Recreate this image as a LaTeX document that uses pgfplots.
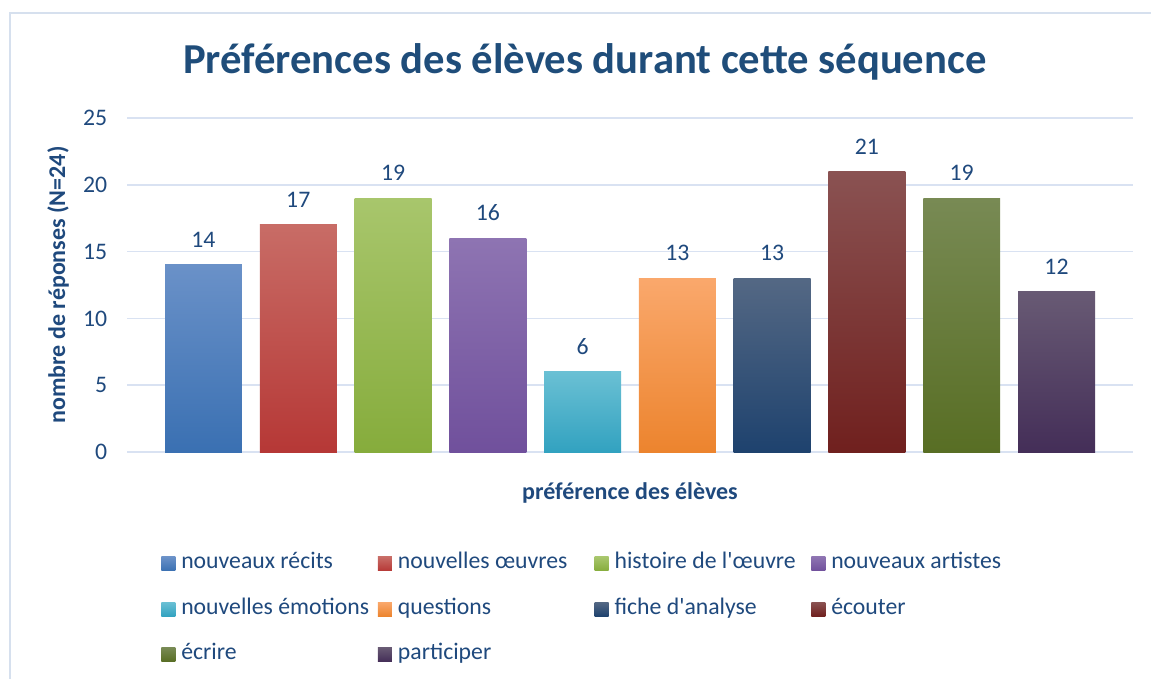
\documentclass[border=0pt]{standalone}
\usepackage{fontspec}
\setmainfont{Carlito}
\usepackage{pgfplots}
\pgfplotsset{compat=1.18}

\definecolor{txt}{RGB}{31,73,125}
\definecolor{ttl}{RGB}{31,77,122}
\definecolor{gridc}{RGB}{217,226,242}
\definecolor{framec}{RGB}{214,224,238}
% series colours: top / bottom of the gradient
\definecolor{c1t}{RGB}{106,145,200}\definecolor{c1b}{RGB}{58,112,178}
\definecolor{c2t}{RGB}{200,108,102}\definecolor{c2b}{RGB}{182,56,54}
\definecolor{c3t}{RGB}{168,198,108}\definecolor{c3b}{RGB}{134,172,60}
\definecolor{c4t}{RGB}{142,116,178}\definecolor{c4b}{RGB}{112,80,156}
\definecolor{c5t}{RGB}{106,192,212}\definecolor{c5b}{RGB}{50,162,192}
\definecolor{c6t}{RGB}{250,168,108}\definecolor{c6b}{RGB}{236,132,46}
\definecolor{c7t}{RGB}{84,104,132}\definecolor{c7b}{RGB}{30,66,110}
\definecolor{c8t}{RGB}{138,82,82}\definecolor{c8b}{RGB}{112,32,30}
\definecolor{c9t}{RGB}{120,138,84}\definecolor{c9b}{RGB}{88,110,36}
\definecolor{c10t}{RGB}{104,90,116}\definecolor{c10b}{RGB}{68,46,88}

\newcommand{\legtxt}[1]{\makebox[143pt][l]{#1}}

\begin{document}
\begin{tikzpicture}
\begin{scope}[x=0.75pt,y=0.75pt]
\useasboundingbox (-127,-226) rectangle (1024,452);
\draw[framec,line width=1.5pt] (-117,-260) -- (-117,439) -- (1040,439);
\end{scope}
\begin{axis}[
    scale only axis,
    width=754.5pt, height=250.5pt,
    xmin=-0.807, xmax=9.807,
    ymin=0, ymax=25,
    ytick={0,5,10,15,20,25},
    xtick=\empty,
    ymajorgrids,
    grid style={gridc, line width=1.2pt},
    axis line style={draw=none},
    major tick length=0pt,
    /pgf/number format/assume math mode=true,
    yticklabel style={font=\fontsize{17.8}{21}\selectfont, text=txt, xshift=-11.3pt},
    ybar, bar width=0.812, bar shift=0pt,
    nodes near coords,
    nodes near coords style={font=\fontsize{17.8}{21}\selectfont, text=txt, anchor=base, yshift=13pt},
    ylabel={nombre de réponses (N=24)},
    ylabel style={at={(axis description cs:0,0.5)}, anchor=center, yshift=51.75pt,
        font=\fontsize{18}{21}\selectfont\bfseries, text=txt},
    xlabel={préférence des élèves},
    xlabel style={at={(axis description cs:0.5,0)}, anchor=center, yshift=-30.75pt,
        font=\fontsize{18}{21}\selectfont\bfseries, text=txt},
    legend columns=4,
    legend style={at={(axis description cs:0.0338,-0.3054)}, anchor=north west,
        draw=none, fill=none, inner sep=0pt,
        font=\fontsize{17.8}{21}\selectfont, text=txt,
        column sep=4.5pt, row sep=19.5pt,
        nodes={inner sep=0pt, text height=11pt, text depth=3.5pt}},
    legend image code/.code={\path[#1, draw=none] (0pt,-5.25pt) rectangle (10.5pt,5.25pt);},
]
\addplot[draw=none, top color=c1t, bottom color=c1b] coordinates {(0,14)};
\addplot[draw=none, top color=c2t, bottom color=c2b] coordinates {(1,17)};
\addplot[draw=none, top color=c3t, bottom color=c3b] coordinates {(2,19)};
\addplot[draw=none, top color=c4t, bottom color=c4b] coordinates {(3,16)};
\addplot[draw=none, top color=c5t, bottom color=c5b] coordinates {(4,6)};
\addplot[draw=none, top color=c6t, bottom color=c6b] coordinates {(5,13)};
\addplot[draw=none, top color=c7t, bottom color=c7b] coordinates {(6,13)};
\addplot[draw=none, top color=c8t, bottom color=c8b] coordinates {(7,21)};
\addplot[draw=none, top color=c9t, bottom color=c9b] coordinates {(8,19)};
\addplot[draw=none, top color=c10t, bottom color=c10b] coordinates {(9,12)};
\legend{\legtxt{nouveaux récits}, \legtxt{nouvelles œuvres}, \legtxt{histoire de l\textquotesingle œuvre}, \legtxt{nouveaux artistes},
        \legtxt{nouvelles émotions}, \legtxt{questions}, \legtxt{fiche d\textquotesingle analyse}, \legtxt{écouter},
        \legtxt{écrire}, \legtxt{participer}}
\end{axis}
\begin{scope}[x=0.75pt,y=0.75pt]
\node[font=\fontsize{32}{38}\selectfont\bfseries, text=ttl] at (458,390) {Préférences des élèves durant cette séquence};
\end{scope}
\end{tikzpicture}
\end{document}
